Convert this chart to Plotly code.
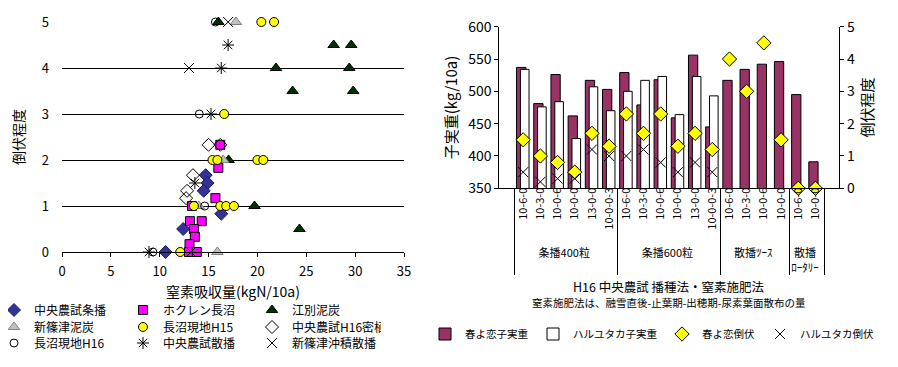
import plotly.graph_objects as go

# ---------------- Left chart: 窒素吸収量 vs 倒伏程度 ----------------
jyo_x = [14.7, 14.9, 14.5, 16.3, 12.4, 10.6]
jyo_y = [1.67, 1.5, 1.33, 0.83, 0.5, 0]
hok_x = [16.2, 16.0, 15.7, 13.3, 13.1, 14.3, 13.5, 13.6, 13.05, 13.0, 13.8]
hok_y = [2.33, 1.83, 1.17, 1.0, 0.67, 0.67, 0.5, 0.33, 0.17, 0, 0]
ebe_x = [16.0, 27.8, 29.6, 21.9, 29.4, 23.6, 29.8, 17.05, 19.7, 24.3]
ebe_y = [5, 4.5, 4.5, 4, 4, 3.5, 3.5, 2, 1, 0.5]
shd_x = [17.8, 16.5, 14.0, 15.9]
shd_y = [5, 2, 1, 0]
n15_x = [20.4, 21.7, 16.6, 15.4, 15.9, 20.0, 20.6, 13.5, 16.2, 16.8, 17.6, 12.1]
n15_y = [5, 5, 3, 2, 2, 2, 2, 1, 1, 1, 1, 0]
mis_x = [15.0, 16.2, 13.4, 12.8, 12.7]
mis_y = [2.33, 2.33, 1.67, 1.33, 1.17]
n16_x = [15.7, 14.05, 14.6, 9.3]
n16_y = [5, 3, 1, 0]
san_x = [17.0, 16.3, 15.25, 13.6, 8.9]
san_y = [4.5, 4, 3, 1.5, 0]
oki_x = [17.0, 13.0, 13.2]
oki_y = [5, 4, 0]

left_x_ticks = [0, 5, 10, 15, 20, 25, 30, 35]
left_y_ticks = [0, 1, 2, 3, 4, 5]

# ---------------- Right chart: 播種法・窒素施肥法 ----------------
group_labels = ["条播400粒", "条播400粒", "条播400粒", "条播400粒", "条播400粒", "条播400粒",
                "条播600粒", "条播600粒", "条播600粒", "条播600粒", "条播600粒", "条播600粒",
                "散播ﾂｰｽ", "散播ﾂｰｽ", "散播ﾂｰｽ", "散播ﾂｰｽ",
                "散播<br>ﾛｰﾀﾘｰ", "散播<br>ﾛｰﾀﾘｰ"]
fert_labels = ["10-6-0", "10-3-0", "10-0-6", "10-0-0", "13-0-0", "10-0-0-3",
               "10-6-0", "10-3-0", "10-0-6", "10-0-0", "13-0-0", "10-0-0-3",
               "10-6-0", "10-3-0", "10-0-6", "10-0-0",
               "10-6-0", "10-0-0"]
haruyokoi_yield = [537, 481, 526, 462, 517, 503, 529, 479, 518, 459, 556, 445,
                   517, 534, 542, 546, 495, 391]
haruyutaka_yield = [534, 476, 484, 427, 507, 470, 500, 517, 523, 464, 523, 493,
                    None, None, None, None, None, None]
haruyokoi_lodging = [1.5, 1.0, 0.8, 0.5, 1.7, 1.3, 2.3, 1.7, 2.3, 1.3, 1.7, 1.2,
                     4.0, 3.0, 4.5, 1.5, 0, 0]
haruyutaka_lodging = [0.5, 0.2, 0.3, 0.3, 1.2, 1.0, 1.0, 1.2, 0.8, 0.5, 0.8, 0.5,
                      None, None, None, None, None, None]

right_title = "H16 中央農試 播種法・窒素施肥法"
right_subtitle = "窒素施肥法は、融雪直後-止葉期-出穂期-尿素葉面散布の量"

FONT = "Noto Sans CJK JP"
W, H = 898, 367
OFF = 8  # page offset of the figure (default body margin)

fig = go.Figure()

def sc(x, y, name, symbol, color, line_color, size, legend, lw=1):
    fig.add_trace(go.Scatter(
        x=x, y=y, mode="markers", name=name, legend=legend,
        xaxis="x", yaxis="y", cliponaxis=False,
        marker=dict(symbol=symbol, color=color, size=size,
                    line=dict(color=line_color, width=lw))))

sc(jyo_x, jyo_y, "中央農試条播", "diamond", "#333399", "#1a1a66", 10, "legend")
sc(hok_x, hok_y, "ホクレン長沼", "square", "#FF00FF", "#000000", 9, "legend")
sc(ebe_x, ebe_y, "江別泥炭", "triangle-up", "#003300", "#000000", 10, "legend")
sc(shd_x, shd_y, "新篠津泥炭", "triangle-up", "#C0C0C0", "#808080", 10, "legend2")
sc(n15_x, n15_y, "長沼現地H15", "circle", "#FFFF00", "#000000", 9, "legend2")
sc(mis_x, mis_y, "中央農試H16密植", "diamond-open", "#000000", "#000000", 10, "legend2")
sc(n16_x, n16_y, "長沼現地H16", "circle-open", "#000000", "#000000", 8, "legend3")
sc(san_x, san_y, "中央農試散播", "asterisk-open", "#000000", "#000000", 10, "legend3")
sc(oki_x, oki_y, "新篠津沖積散播", "x-thin-open", "#000000", "#000000", 10, "legend3")

xcat = [group_labels, fert_labels]
fig.add_trace(go.Bar(
    x=xcat, y=haruyokoi_yield, name="春よ恋子実重", legend="legend4",
    xaxis="x2", yaxis="y2", width=0.54, offset=-0.385,
    marker=dict(color="#993366", line=dict(color="#000000", width=1))))
fig.add_trace(go.Bar(
    x=xcat, y=haruyutaka_yield, name="ハルユタカ子実重", legend="legend4",
    xaxis="x2", yaxis="y2", width=0.5, offset=-0.16,
    marker=dict(color="#FFFFFF", line=dict(color="#000000", width=1))))
fig.add_trace(go.Scatter(
    x=xcat, y=haruyokoi_lodging, name="春よ恋倒伏", legend="legend4",
    mode="markers", xaxis="x2", yaxis="y3", cliponaxis=False,
    marker=dict(symbol="diamond", color="#FFFF00", size=11,
                line=dict(color="#000000", width=1))))
fig.add_trace(go.Scatter(
    x=xcat, y=haruyutaka_lodging, name="ハルユタカ倒伏", legend="legend4",
    mode="markers", xaxis="x2", yaxis="y3", cliponaxis=False,
    marker=dict(symbol="x-thin-open", color="#000000", size=10,
                line=dict(color="#000000", width=1))))

def px_x(p):
    return (p - OFF) / W

def px_y(p):
    return 1 - (p - OFF) / H

tickfont = dict(family=FONT, size=13, color="#000000")
leg_common = dict(orientation="h", xanchor="left", yanchor="middle",
                  bgcolor="rgba(0,0,0,0)", font=dict(family=FONT, size=12, color="#000000"),
                  entrywidth=84, entrywidthmode="pixels", itemwidth=30)

fig.update_layout(
    width=W, height=H,
    margin=dict(l=0, r=0, t=0, b=0, autoexpand=False),
    paper_bgcolor="#FFFFFF", plot_bgcolor="rgba(0,0,0,0)",
    font=dict(family=FONT, color="#000000"),
    barmode="overlay",
    xaxis=dict(domain=[px_x(62), px_x(404)], anchor="y", range=[0, 35],
               tickvals=left_x_ticks, showgrid=False, zeroline=False,
               showline=True, linecolor="#000000", linewidth=1,
               ticks="outside", ticklen=4, tickcolor="#000000",
               ticklabelstandoff=3, tickfont=tickfont,
               title=dict(text="窒素吸収量(kgN/10a)", font=dict(family=FONT, size=14),
                          standoff=8)),
    yaxis=dict(domain=[px_y(252), px_y(22)], anchor="x", range=[0, 5],
               tickvals=left_y_ticks, showgrid=True, gridcolor="#000000",
               gridwidth=1, zeroline=False, showline=False, ticks="",
               ticklabelstandoff=12, tickfont=tickfont,
               title=dict(text="倒伏程度", font=dict(family=FONT, size=14),
                          standoff=16)),
    xaxis2=dict(domain=[px_x(499.3), px_x(839.3)], anchor="y2", type="multicategory",
                showline=True, linecolor="#000000", linewidth=1, ticks="",
                showgrid=False, tickangle=-90, ticklabelstandoff=-6,
                showdividers=True, dividercolor="#000000", dividerwidth=1,
                tickfont=dict(family=FONT, size=11, color="#000000")),
    yaxis2=dict(domain=[px_y(188.3), px_y(26.7)], anchor="x2", range=[350, 600],
                dtick=50, showgrid=False, zeroline=False,
                showline=True, linecolor="#000000", linewidth=1,
                ticks="outside", ticklen=4, tickcolor="#000000",
                tickfont=dict(family=FONT, size=14, color="#000000"),
                title=dict(text="子実重(kg/10a)", font=dict(family=FONT, size=15),
                           standoff=6)),
    yaxis3=dict(overlaying="y2", side="right", anchor="x2", range=[0, 5],
                dtick=1, showgrid=False, zeroline=False,
                showline=True, linecolor="#000000", linewidth=1,
                ticks="outside", ticklen=4, tickcolor="#000000",
                tickfont=dict(family=FONT, size=14, color="#000000"),
                title=dict(text="倒伏程度", font=dict(family=FONT, size=15),
                           standoff=8)),
    legend=dict(x=px_x(-6), y=px_y(310), **leg_common),
    legend2=dict(x=px_x(-6), y=px_y(327), **leg_common),
    legend3=dict(x=px_x(-6), y=px_y(343), **leg_common),
    legend4=dict(x=px_x(425), y=px_y(334), orientation="h", xanchor="left",
                 yanchor="middle", bgcolor="rgba(0,0,0,0)", itemwidth=30,
                 font=dict(family=FONT, size=10.5, color="#000000")),
    annotations=[
        dict(text=right_title, xref="paper", yref="paper",
             x=px_x(669), y=px_y(286.5), xanchor="center", yanchor="middle",
             showarrow=False, font=dict(family=FONT, size=12.5, color="#000000")),
        dict(text=right_subtitle, xref="paper", yref="paper",
             x=px_x(669), y=px_y(302.5), xanchor="center", yanchor="middle",
             showarrow=False, font=dict(family=FONT, size=10.5, color="#000000")),
    ],
)

fig.write_html("out.html")
